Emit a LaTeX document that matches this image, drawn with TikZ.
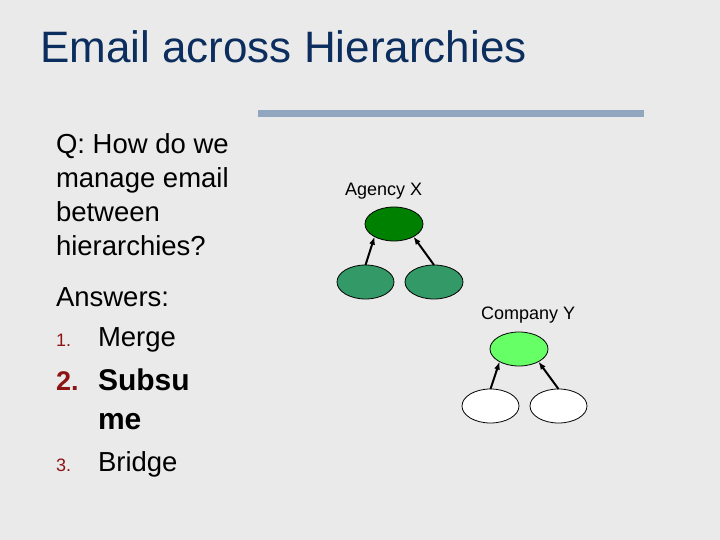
\documentclass[tikz,border=0pt]{standalone}
\usepackage{fontspec}
\setmainfont{Liberation Sans}
\usetikzlibrary{shapes.geometric,arrows.meta}
\definecolor{bg}{RGB}{234,234,234}
\definecolor{titleblue}{RGB}{12,46,94}
\definecolor{barblue}{RGB}{145,167,191}
\definecolor{numred}{RGB}{140,20,20}
\definecolor{dkgreen}{RGB}{0,128,0}
\definecolor{midgreen}{RGB}{51,153,102}
\definecolor{ltgreen}{RGB}{102,255,102}
\tikzset{
  txt/.style={anchor=base west, inner sep=0pt, outer sep=0pt},
  body/.style={txt, font=\fontsize{27.5}{33}\selectfont},
  bodybold/.style={txt, font=\fontsize{30}{36}\selectfont\bfseries},
  num/.style={txt, text=numred, font=\fontsize{18}{22}\selectfont},
  numbold/.style={txt, text=numred, font=\fontsize{27}{32}\selectfont\bfseries},
  lbl/.style={txt, font=\fontsize{18}{22}\selectfont},
  oval/.style={ellipse, draw=black, line width=0.8pt, inner sep=0pt, outer sep=0pt,
               minimum width=58pt, minimum height=34pt},
  arr/.style={-{Latex[length=8pt,width=6pt]}, line width=2pt}
}
\begin{document}
\begin{tikzpicture}[x=1pt,y=-1pt]
\fill[bg] (0,0) rectangle (720,540);
\useasboundingbox (0,0) rectangle (720,540);
% title and bar
\node[txt, text=titleblue, font=\fontsize{44}{52}\selectfont] (title) at (40,63) {Email across Hierarchies};
\fill[barblue] (258,110) rectangle (644,117);
% question
\node[body] (q1) at (56,154) {Q: How do we};
\node[body] (q2) at (56,188) {manage email};
\node[body] (q3) at (56,221.5) {between};
\node[body] (q4) at (56,255) {hierarchies?};
% answers
\node[body] (ans) at (56,306) {Answers:};
\node[num] (n1) at (56,346) {1.};
\node[body] (a1) at (98,346) {Merge};
\node[numbold] (n2) at (56,390.5) {2.};
\node[bodybold] (a2) at (98,390.5) {Subsu};
\node[bodybold] (a2b) at (98,429) {me};
\node[num] (n3) at (56,471.5) {3.};
\node[body] (a3) at (98,471.5) {Bridge};
% Agency X tree
\node[lbl] (agl) at (345,196) {Agency X};
\node[oval, fill=dkgreen] (ag) at (394,224) {};
\node[oval, fill=midgreen, minimum width=57pt] (agL) at (365.5,282) {};
\node[oval, fill=midgreen] (agR) at (434,282) {};
\draw[arr] (agL.north) -- (ag.213);
\draw[arr] (agR.north) -- (ag.327);
% Company Y tree
\node[lbl] (col) at (481,319) {Company Y};
\node[oval, fill=ltgreen] (co) at (519,349) {};
\node[oval, fill=white, minimum width=57pt] (coL) at (490.5,406) {};
\node[oval, fill=white, minimum width=57pt] (coR) at (558.5,406) {};
\draw[arr] (coL.north) -- (co.213);
\draw[arr] (coR.north) -- (co.327);
\end{tikzpicture}
\end{document}
